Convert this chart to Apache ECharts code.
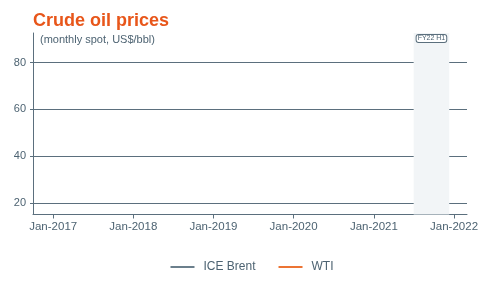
<!DOCTYPE html>
<html>
<head>
<meta charset="utf-8">
<script src="https://cdn.jsdelivr.net/npm/echarts@6/dist/echarts.min.js"></script>
<style>
  html, body { margin: 0; padding: 0; background: #fff; }
  #chart { width: 504px; height: 288px; }
</style>
</head>
<body>
<div id="chart"></div>
<script>
// 数据
const seriesNames = ['ICE Brent', 'WTI'];
const brentValues = [];   // 参考图里看不到任何数据点
const wtiValues = [];
const xRange = ['2016-10-01', '2022-03-01'];
const yRange = [15.2, 92.6];
const fyBand = ['2021-07-01', '2021-12-10'];
const fyLabel = 'FY22 H1';

const axisColor = '#5b6f7d';
const textColor = '#4d6372';

const chart = echarts.init(document.getElementById('chart'));

const option = {
  animation: false,
  title: [
    {
      text: 'Crude oil prices',
      left: 33,
      top: 12,
      padding: 0,
      textStyle: { color: '#e8561a', fontSize: 18, fontWeight: 'bold', fontFamily: 'Liberation Sans' }
    },
    {
      text: '(monthly spot, US$/bbl)',
      left: 40,
      top: 34,
      padding: 0,
      textStyle: { color: textColor, fontSize: 11, fontWeight: 'normal', fontFamily: 'Liberation Sans' }
    }
  ],
  legend: {
    bottom: 10,
    left: 'center',
    itemWidth: 24,
    itemGap: 23,
    icon: 'path://M0,0 L24,0 L24,2 L0,2 Z',
    itemHeight: 2,
    textStyle: { color: textColor, fontSize: 12, fontFamily: 'Liberation Sans', padding: [0, 0, 0, 4] },
    data: seriesNames
  },
  grid: { left: 33, right: 37, top: 33, bottom: 73.5 },
  xAxis: {
    type: 'time',
    min: xRange[0],
    max: xRange[1],
    minInterval: 365 * 86400000,
    axisLine: { show: true, lineStyle: { color: axisColor } },
    axisTick: { show: true, length: 4, lineStyle: { color: axisColor } },
    splitLine: { show: false },
    axisLabel: {
      color: textColor,
      fontSize: 11.5,
      fontFamily: 'Liberation Sans',
      margin: 6,
      formatter: function (v) {
        const d = new Date(v);
        return 'Jan-' + d.getFullYear();
      }
    }
  },
  yAxis: {
    type: 'value',
    min: yRange[0],
    max: yRange[1],
    splitNumber: 4,
    axisLine: { show: true, lineStyle: { color: axisColor } },
    axisTick: { show: true, length: 3, lineStyle: { color: axisColor } },
    axisLabel: {
      color: textColor,
      fontSize: 11,
      fontFamily: 'Liberation Sans',
      margin: 7,
      showMinLabel: false,
      showMaxLabel: false
    },
    splitLine: {
      show: true,
      showMinLine: false,
      showMaxLine: false,
      lineStyle: { color: axisColor, width: 1 }
    }
  },
  series: [
    {
      name: seriesNames[0],
      type: 'line',
      showSymbol: false,
      data: brentValues,
      itemStyle: { color: '#6b7f8c' },
      lineStyle: { color: '#6b7f8c', width: 2 },
      markArea: {
        silent: true,
        itemStyle: { color: '#f2f5f7' },
        label: {
          show: true,
          position: 'insideTop',
          distance: 2,
          color: textColor,
          fontSize: 7,
          fontFamily: 'Liberation Sans',
          borderColor: axisColor,
          borderWidth: 1,
          borderRadius: 2,
          padding: [0, 1, 0, 1],
          backgroundColor: '#fff'
        },
        data: [[{ name: fyLabel, xAxis: fyBand[0] }, { xAxis: fyBand[1] }]]
      }
    },
    {
      name: seriesNames[1],
      type: 'line',
      showSymbol: false,
      data: wtiValues,
      itemStyle: { color: '#ec7434' },
      lineStyle: { color: '#ec7434', width: 2 }
    }
  ]
};

chart.setOption(option);
</script>
</body>
</html>
